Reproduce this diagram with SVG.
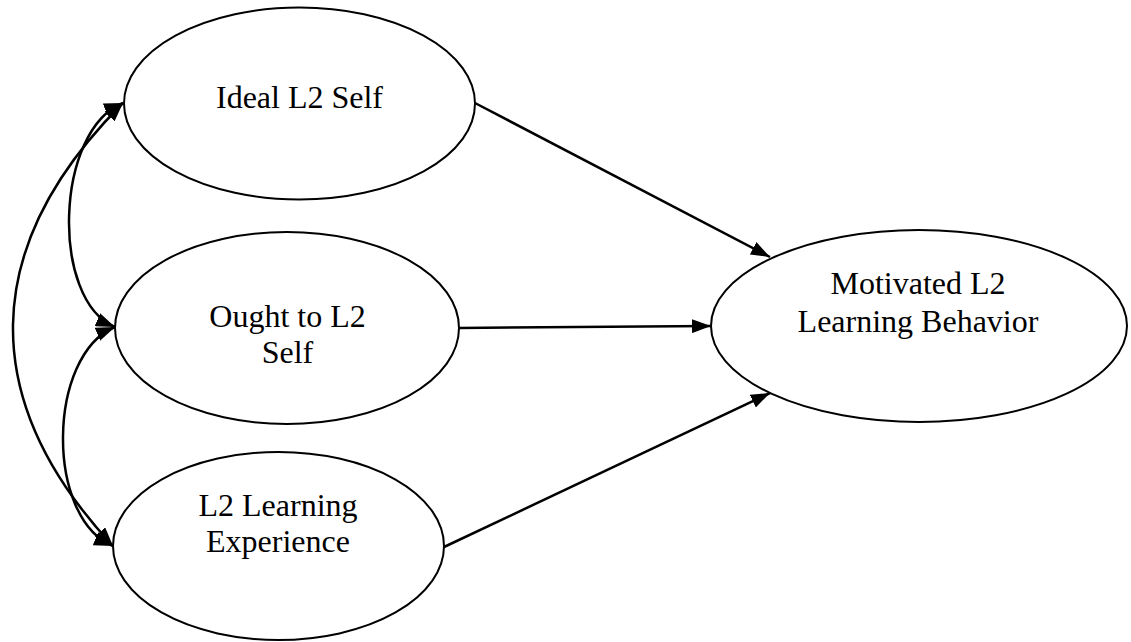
<svg xmlns="http://www.w3.org/2000/svg" width="1131" height="642" viewBox="0 0 1131 642">
<style>
.node ellipse{fill:#fff;stroke:#000;stroke-width:2}
.node text{font-family:"Liberation Serif","Times New Roman",serif;font-size:32px;fill:#000;text-anchor:middle}
.edge{fill:none;stroke:#000;stroke-width:2.5}
</style>
<defs>
<marker id="ah" viewBox="0 0 19 14" refX="19" refY="7" markerWidth="19" markerHeight="14" markerUnits="userSpaceOnUse" orient="auto-start-reverse">
<path d="M0,0 L19,7 L0,14 Z" fill="#000"/>
</marker>
</defs>
<rect width="1131" height="642" fill="#fff"/>
<g id="connectors">
<path class="edge" d="M475,103 L770,257" marker-end="url(#ah)"/>
<path class="edge" d="M459,328 L711,326" marker-end="url(#ah)"/>
<path class="edge" d="M444,547 L770,393" marker-end="url(#ah)"/>
<path class="edge" d="M123,103 C55,130 50,300 115,327" marker-start="url(#ah)" marker-end="url(#ah)"/>
<path class="edge" d="M123,103 C-22,248 -22,401 113,546" marker-start="url(#ah)" marker-end="url(#ah)"/>
<path class="edge" d="M115,327 C47,355 45,518 113,546" marker-start="url(#ah)" marker-end="url(#ah)"/>
</g>
<g id="ideal" class="node">
<ellipse cx="299.5" cy="103.5" rx="175.5" ry="96"/>
<text x="299.5" y="108">Ideal L2 Self</text>
</g>
<g id="ought" class="node">
<ellipse cx="287" cy="328" rx="172" ry="96"/>
<text x="287.5" y="327">Ought to L2</text>
<text x="287.5" y="363">Self</text>
</g>
<g id="experience" class="node">
<ellipse cx="278.5" cy="546" rx="165.5" ry="94"/>
<text x="278" y="516">L2 Learning</text>
<text x="278" y="552">Experience</text>
</g>
<g id="motivated" class="node">
<ellipse cx="919" cy="326" rx="208" ry="96"/>
<text x="918" y="294">Motivated L2</text>
<text x="918" y="332">Learning Behavior</text>
</g>
</svg>
